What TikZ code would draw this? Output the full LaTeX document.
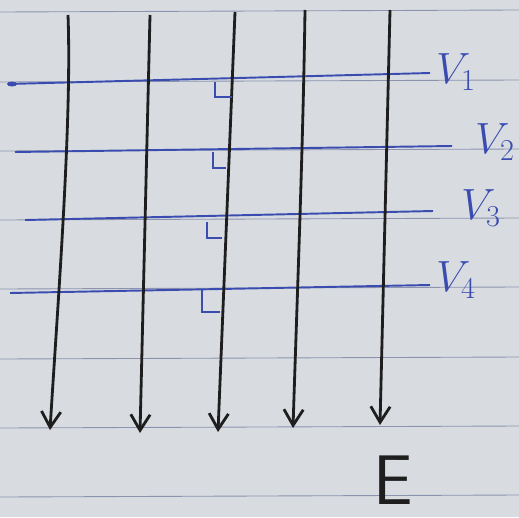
\documentclass[tikz,border=0pt]{standalone}
\usetikzlibrary{arrows.meta}
\definecolor{paper}{HTML}{D8DCE1}
\definecolor{rule}{HTML}{8C93AE}
\definecolor{pen}{HTML}{3A4CB0}
\definecolor{ink}{HTML}{1E1E1E}
\begin{document}
\begin{tikzpicture}[x=0.02cm,y=-0.02cm,
  ruled/.style={draw=rule,line width=0.5pt},
  fieldline/.style={draw=ink,line width=1.6pt,-{Straight Barb[length=9pt,width=11pt,line width=1.6pt]}},
  equip/.style={draw=pen,line width=1.1pt},
  rightmark/.style={draw=pen,line width=1pt},
  vlabel/.style={text=pen,font=\fontsize{27}{27}\selectfont,inner sep=0pt},
]
\fill[paper] (0,0) rectangle (519,517);
\useasboundingbox (0,0) rectangle (519,517);
% ruled notebook lines
\foreach \y in {12,82,151,220,289,359,428,497}{
  \draw[ruled] (0,\y) -- (519,\y-2);
}
% equipotential lines
\coordinate (v1a) at (8,84);  \coordinate (v1b) at (430,73);
\coordinate (v2a) at (15,152); \coordinate (v2b) at (452,146);
\coordinate (v3a) at (25,220); \coordinate (v3b) at (433,211);
\coordinate (v4a) at (10,293); \coordinate (v4b) at (430,285);
\draw[equip] (v1a) -- (v1b);
\draw[equip] (v2a) -- (v2b);
\draw[equip] (v3a) -- (v3b);
\draw[equip] (v4a) -- (v4b);
\fill[pen] (12,84) ellipse (5 and 2.5);
% labels
\node[vlabel] (l1) at (456,72) {$V_{1}$};
\node[vlabel] (l2) at (495,142) {$V_{2}$};
\node[vlabel] (l3) at (481,208) {$V_{3}$};
\node[vlabel] (l4) at (456,280) {$V_{4}$};
% field lines
\coordinate (a1t) at (68,15);  \coordinate (a1b) at (50,430);
\coordinate (a2t) at (150,15); \coordinate (a2b) at (140,433);
\coordinate (a3t) at (235,12); \coordinate (a3b) at (218,432);
\coordinate (a4t) at (305,10); \coordinate (a4b) at (293,428);
\coordinate (a5t) at (390,10); \coordinate (a5b) at (380,425);
\draw[fieldline] (a1t) .. controls (72,120) and (58,300) .. (a1b);
\draw[fieldline] (a2t) -- (a2b);
\draw[fieldline] (a3t) -- (a3b);
\draw[fieldline] (a4t) .. controls (303,150) and (297,300) .. (a4b);
\draw[fieldline] (a5t) -- (a5b);
% right-angle marks
\draw[rightmark] (215,82) -- (215,97) -- (232,97);
\draw[rightmark] (213,152) -- (213,168) -- (226,168);
\draw[rightmark] (207,222) -- (207,238) -- (222,238);
\draw[rightmark] (202,290) -- (202,312) -- (220,312);
% E label
\node[text=ink,font=\sffamily\fontsize{40}{40}\selectfont,inner sep=0pt,text depth=0pt,anchor=base] (E) at (393,504) {E};
\end{tikzpicture}
\end{document}
